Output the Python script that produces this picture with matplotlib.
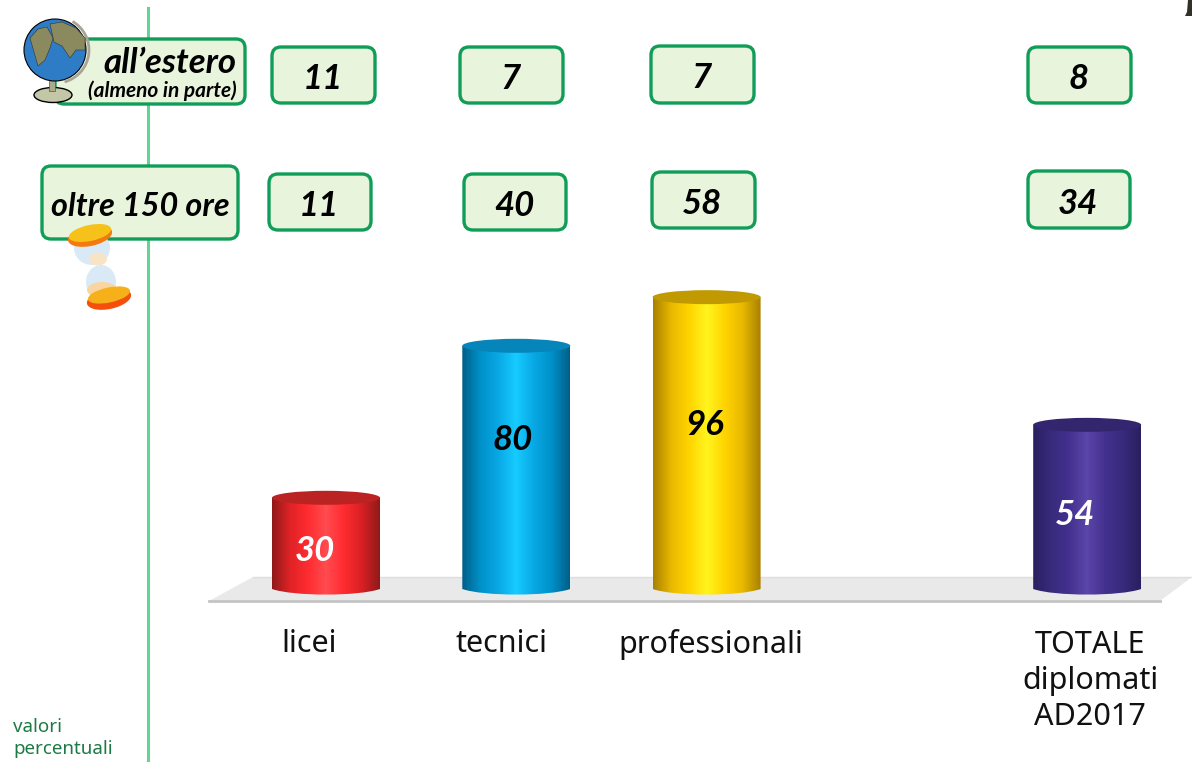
"""Diplomati con alternanza: cilindri + riquadri con i valori."""
import matplotlib
matplotlib.use("Agg")
import matplotlib.pyplot as plt
import numpy as np
from matplotlib.colors import LinearSegmentedColormap
from matplotlib.patches import Arc, Circle, Ellipse, FancyBboxPatch, PathPatch, Polygon, Rectangle
from matplotlib.path import Path

plt.rcParams["font.family"] = ["Noto Sans", "DejaVu Sans"]

# --- data ---
categories = ["licei", "tecnici", "professionali", "TOTALE\ndiplomati\nAD2017"]
totale_ore = [30, 80, 96, 54]
oltre_150 = [11, 40, 58, 34]
estero = [11, 7, 7, 8]
x_cat = [0, 1, 2, 4]

# --- styles ---
BAR_COLORS = [
    ["#8f1a1a", "#e02226", "#ff2c30", "#ff4b50", "#ff2c30", "#d82024", "#8f1a1a"],
    ["#005f88", "#0090c8", "#08a8e4", "#16ccff", "#08a8e4", "#0090c8", "#005f88"],
    ["#a88000", "#e8b800", "#ffd400", "#fff41e", "#ffd400", "#e8b800", "#a88000"],
    ["#2a1f60", "#382a7c", "#44318f", "#5b46a9", "#44318f", "#382a7c", "#2a1f60"],
]
TOP_COLORS = ["#bb2222", "#0585ba", "#c09a00", "#33266e"]
VAL_COLORS = ["white", "black", "black", "white"]
GREEN = "#0f9d58"
BOX_FILL = "#e9f4dd"
BI = dict(family="Lato", fontweight="bold", fontstyle="italic")
W, H = 1192, 762
BASE_PX, PX_PER_VAL, PX_PER_X, X0_PX = 589, 3.04, 190.3, 326
BAR_W = 108 / PX_PER_X

fig = plt.figure(figsize=(W / 100, H / 100), dpi=100)


def pixel_axes(z):
    a = fig.add_axes([0, 0, 1, 1], zorder=z)
    a.set_xlim(0, W)
    a.set_ylim(H, 0)
    a.axis("off")
    return a


bg = pixel_axes(0)      # line and platform, behind the cylinders
pax = pixel_axes(2)     # boxes, texts, icons

# value axis for the cylinders
ax = fig.add_axes([0, 0, 1, 1], zorder=1)
ax.patch.set_alpha(0)
ax.axis("off")

bg.plot([148, 148], [8, 762], color="#62d493", lw=2.2)

# platform
bg.add_patch(Polygon([(209, 601), (1160, 601), (1192, 577), (253, 577)],
                     closed=True, fc="#e9e9e9", ec="none"))
bg.plot([209, 1160], [601, 601], color="#c4c4c4", lw=2)
bg.plot([253, 1192], [577, 577], color="#dedede", lw=1)

# cylinders
ell_h = 14 / PX_PER_VAL
ell_b = 12 / PX_PER_VAL
for x, v, cols, top in zip(x_cat, totale_ore, BAR_COLORS, TOP_COLORS):
    cmap = LinearSegmentedColormap.from_list("cyl", cols)
    left, right = x - BAR_W / 2, x + BAR_W / 2
    im = ax.imshow(np.linspace(0, 1, 256)[None, :], cmap=cmap, aspect="auto",
                   extent=(left, right, -ell_b, v), zorder=3)
    # body with a rounded bottom
    verts = [(left, v), (left, 0), (left + BAR_W * 0.2, -ell_b * 0.62), (right - BAR_W * 0.2, -ell_b * 0.62),
             (right, 0), (right, v), (left, v)]
    codes = [Path.MOVETO, Path.LINETO, Path.CURVE4, Path.CURVE4, Path.CURVE4, Path.LINETO, Path.CLOSEPOLY]
    clip = PathPatch(Path(verts, codes), transform=ax.transData, fc="none", ec="none")
    ax.add_patch(clip)
    im.set_clip_path(clip)
    ax.add_patch(Ellipse((x, v), BAR_W, ell_h, fc=top, ec="none", zorder=4))

ax.set_xlim(-X0_PX / PX_PER_X, (W - X0_PX) / PX_PER_X)
ax.set_ylim(-(H - BASE_PX) / PX_PER_VAL, BASE_PX / PX_PER_VAL)

# value labels on the cylinders
val_xy = [(315, 551), (513, 440), (705, 425), (1075, 515)]
for (px, py), v, vc in zip(val_xy, totale_ore, VAL_COLORS):
    pax.text(px, py, str(v), color=vc, fontsize=25, ha="center", va="center", zorder=6, **BI)


def box(x0, y0, x1, y1, lw=2.4):
    pax.add_patch(FancyBboxPatch((x0 + 9, y0 + 9), x1 - x0 - 18, y1 - y0 - 18,
                                 boxstyle="round,pad=9,rounding_size=9",
                                 fc=BOX_FILL, ec=GREEN, lw=lw, zorder=3))


row_est = [(272, 47, 375, 103), (460, 47, 563, 103), (651, 46, 754, 103), (1028, 47, 1131, 103)]
row_ore = [(269, 174, 371, 230), (464, 174, 566, 230), (652, 172, 755, 228), (1028, 171, 1130, 228)]
for rect, v in zip(row_est + row_ore, estero + oltre_150):
    box(*rect)
    pax.text((rect[0] + rect[2]) / 2 - 1, (rect[1] + rect[3]) / 2 + 4, str(v), fontsize=25,
             ha="center", va="center", zorder=6, **BI)

# row headers
box(55, 39, 245, 104)
box(42, 166, 238, 239)
pax.text(237, 63, "all’estero", fontsize=25, ha="right", va="center", zorder=6, **BI)
pax.text(237, 91, "(almeno in parte)", fontsize=15, ha="right", va="center", zorder=6, **BI)
pax.text(140, 206, "oltre 150 ore", fontsize=23.3, ha="center", va="center", zorder=6, **BI)

# category labels
cat_xy = [(309, 644), (501, 644), (711, 645), (1090, 681)]
for (px, py), c in zip(cat_xy, categories):
    pax.text(px, py, c, fontsize=22, ha="center", va="center", linespacing=1.28, color="#111111", zorder=6)

pax.text(13, 738, "valori\npercentuali", fontsize=13.5, color="#1e7a45", ha="left", va="center",
         linespacing=1.3, zorder=6)

# globe
pax.add_patch(Ellipse((53, 95), 38, 15, fc="#c4c6a8", ec="black", lw=1, zorder=7))
pax.add_patch(Rectangle((49, 78), 6, 13, fc="#a9ab8a", ec="#555555", lw=0.5, zorder=7))
pax.add_patch(Circle((55, 50), 31, fc="#2f7cc6", ec="black", lw=0.8, zorder=8))
pax.add_patch(Arc((56, 50), 66, 66, theta1=-60, theta2=75, color="#a8a498", lw=2, zorder=8))
pax.add_patch(Polygon([(30, 38), (38, 29), (47, 27), (53, 38), (50, 48), (45, 60), (38, 66), (34, 52)],
                      fc="#8a8a5e", ec="#333333", lw=0.4, zorder=9))
pax.add_patch(Polygon([(50, 24), (62, 22), (76, 28), (85, 38), (85, 50), (76, 50), (70, 58), (62, 46), (54, 42)],
                      fc="#8a8a5e", ec="#333333", lw=0.4, zorder=9))

# hourglass
pax.add_patch(Ellipse((92, 248), 36, 34, fc="#d5e8f5", ec="none", alpha=0.9, zorder=7))
pax.add_patch(Ellipse((98, 259), 18, 13, fc="#f7e3c5", ec="none", zorder=7))
pax.add_patch(Ellipse((101, 282), 30, 34, fc="#d5e8f5", ec="none", alpha=0.9, zorder=7))
pax.add_patch(Ellipse((102, 290), 30, 16, fc="#f9d6a0", ec="none", zorder=7))
pax.add_patch(Ellipse((90, 236), 45, 20, angle=-12, fc="#f47a10", ec="none", zorder=8))
pax.add_patch(Ellipse((90, 233), 43, 16, angle=-12, fc="#f6c21a", ec="none", zorder=8))
pax.add_patch(Ellipse((109, 299), 45, 20, angle=-12, fc="#f4500c", ec="none", zorder=8))
pax.add_patch(Ellipse((109, 295), 43, 15, angle=-12, fc="#f6b01a", ec="none", zorder=8))

# fragment at the top-right edge
pax.add_patch(Polygon([(1188, 0), (1192, 0), (1192, 16), (1185, 16), (1187, 12)], fc="#33302a", ec="none", zorder=6))

fig.savefig("out.png", dpi=100)
